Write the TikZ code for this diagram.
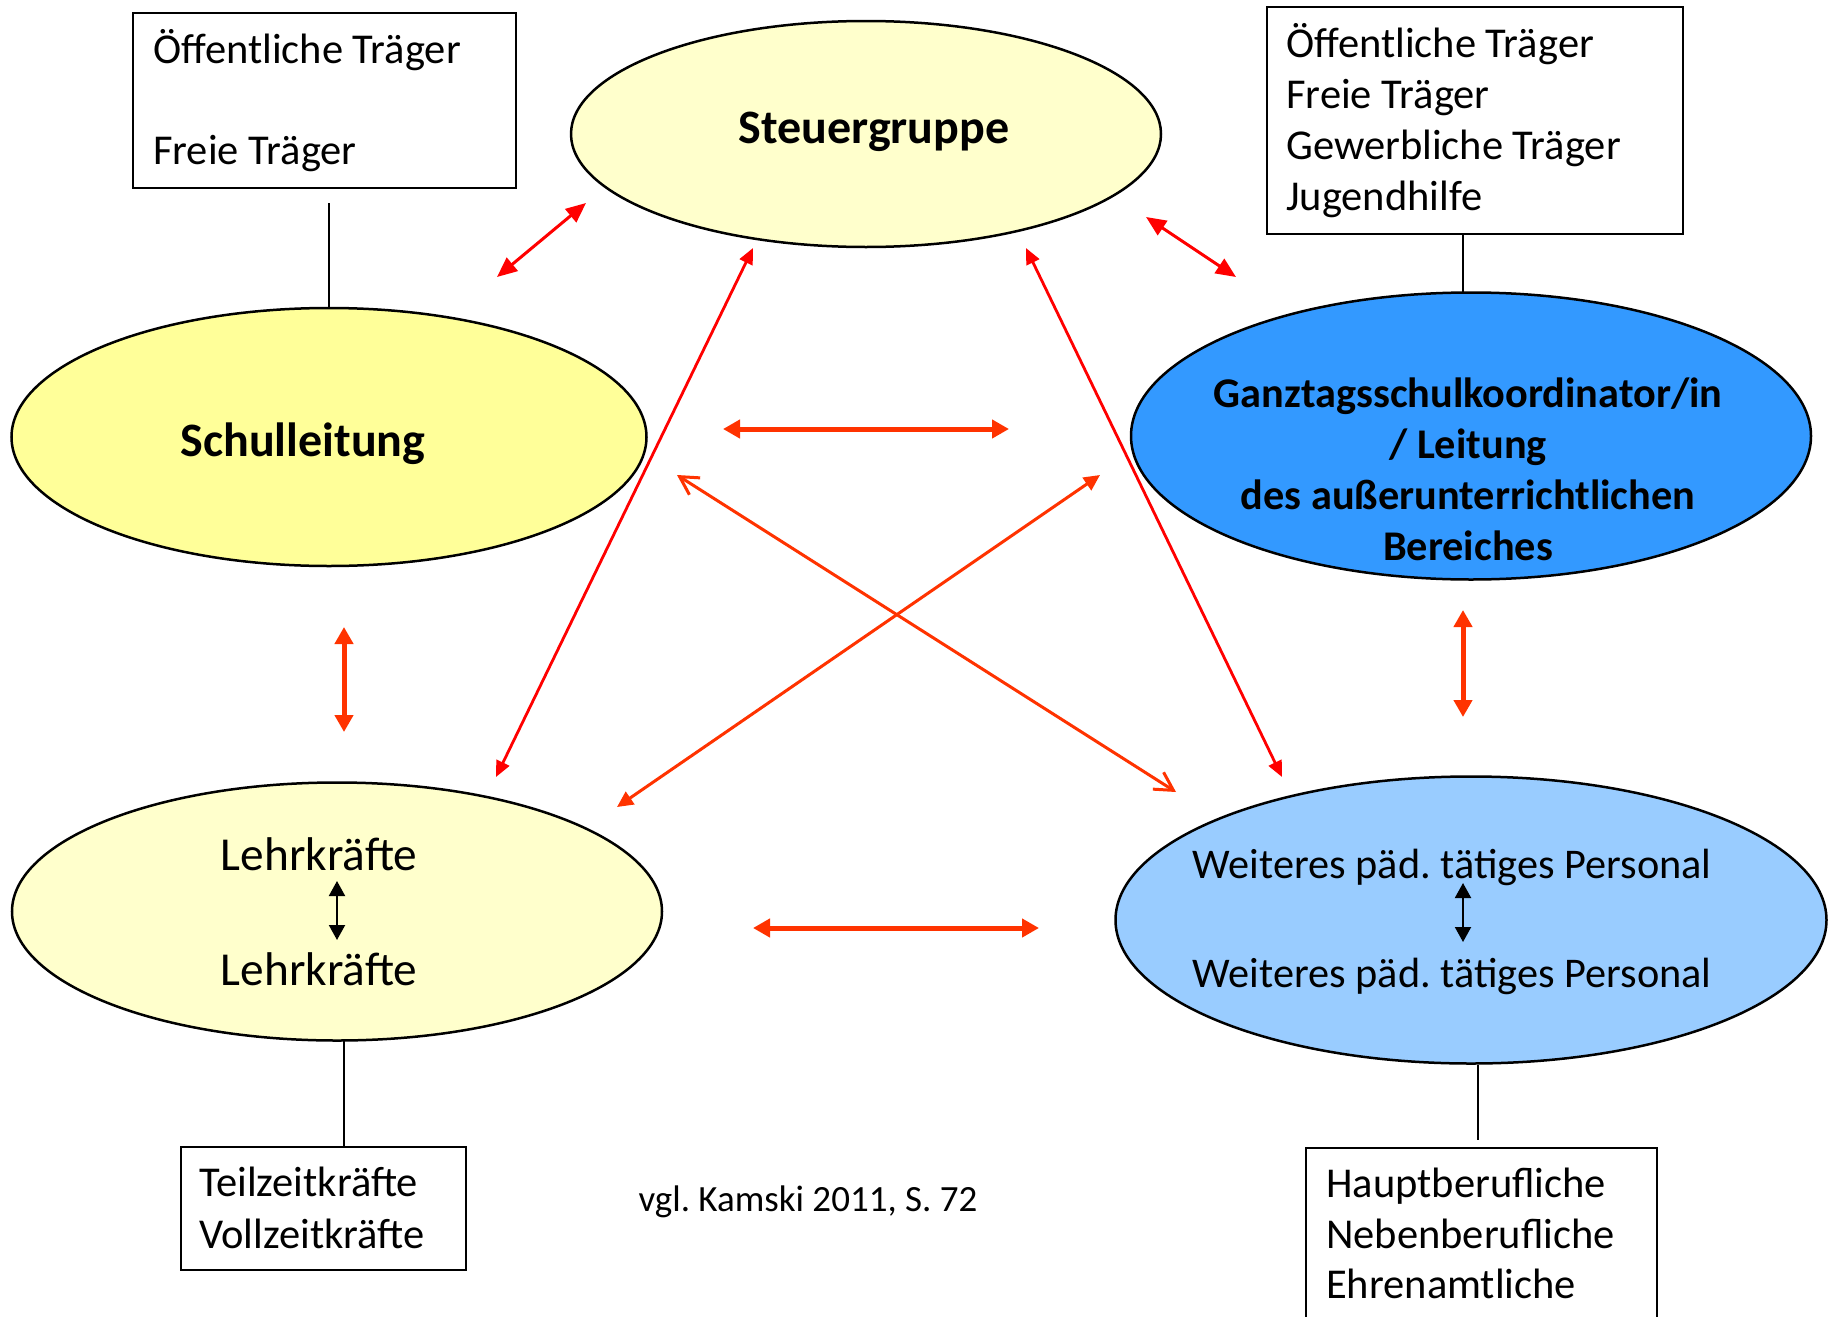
\documentclass[tikz,border=0pt]{standalone}
\usepackage{fontspec}
\setmainfont{Carlito}
\usetikzlibrary{shapes.geometric,arrows.meta}
\definecolor{lightyel}{HTML}{FFFFCC}
\definecolor{yel}{HTML}{FFFF99}
\definecolor{blueA}{HTML}{3399FF}
\definecolor{blueB}{HTML}{99CCFF}
\definecolor{redA}{HTML}{FF0000}
\definecolor{redB}{HTML}{FF3300}
\frenchspacing
\begin{document}
\begin{tikzpicture}[x=1pt,y=-1pt,
  ell/.style={ellipse, draw=black, line width=2.5pt, inner sep=0pt},
  boxstyle/.style={draw=black, line width=2pt, inner sep=0pt, anchor=north west},
  boxtxt/.style={inner sep=0pt, anchor=base west, font=\fontsize{42.5}{51}\selectfont},
  elltxt/.style={inner sep=0pt, font=\fontsize{42.3}{51}\selectfont, align=center},
  bigtxt/.style={inner sep=0pt, font=\bfseries\fontsize{48}{58}\selectfont},
  link/.style={draw=black, line width=1.5pt},
  thinred/.style={draw=redA, line width=3pt, {Triangle[length=20pt,width=17pt]}-{Triangle[length=20pt,width=17pt]}},
  diagred/.style={draw=redA, line width=2.8pt, {Triangle[length=16pt,width=14pt]}-{Triangle[length=16pt,width=14pt]}},
  thickred/.style={draw=redB, line width=5pt, {Triangle[length=17pt,width=18pt]}-{Triangle[length=17pt,width=18pt]}},
  crossred/.style={draw=redB, line width=3pt, {Triangle[length=16pt,width=15pt]}-{Triangle[length=16pt,width=15pt]}},
  openred/.style={draw=redB, line width=3pt, {Straight Barb[length=18pt,width=20pt]}-{Straight Barb[length=18pt,width=20pt]}},
  blackarr/.style={draw=black, line width=2pt, {Triangle[length=15pt,width=16pt]}-{Triangle[length=15pt,width=16pt]}}
]
\useasboundingbox (0,0) rectangle (1837,1317);
\clip (0,0) rectangle (1837,1317);
\fill[white] (0,0) rectangle (1837,1317);

% ellipses
\node[ell, fill=lightyel, minimum width=590pt, minimum height=226pt] (steuer) at (866,134) {};
\node[ell, fill=yel, minimum width=635pt, minimum height=258pt] (schul) at (329,437) {};
\node[ell, fill=blueA, minimum width=680pt, minimum height=287pt] (ganz) at (1471,436) {};
\node[ell, fill=lightyel, minimum width=650pt, minimum height=258pt] (lehr) at (337,911.5) {};
\node[ell, fill=blueB, minimum width=711pt, minimum height=287pt] (weit) at (1471,920) {};

% ellipse texts
\node[bigtxt] (steuerT) at (874,132) {Steuergruppe};
\node[bigtxt] (schulT) at (303,444) {Schulleitung};
\node[elltxt, font=\bfseries\fontsize{42.3}{51}\selectfont] (ganzT) at (1468,469) {Ganztagsschulkoordinator/in\\/ Leitung\\des außerunterrichtlichen\\Bereiches};
\node[inner sep=0pt, font=\fontsize{47.3}{56}\selectfont] (lehrA) at (319,854) {Lehrkräfte};
\node[inner sep=0pt, font=\fontsize{47.3}{56}\selectfont] (lehrB) at (319,969) {Lehrkräfte};
\node[elltxt] (weitA) at (1452,867) {Weiteres päd. tätiges Personal};
\node[elltxt] (weitB) at (1452,976) {Weiteres päd. tätiges Personal};

% black arrows inside
\coordinate (lbA) at (337,881);
\coordinate (lbB) at (337,940);
\draw[blackarr] (lbA) -- (lbB);
\coordinate (wbA) at (1463,883);
\coordinate (wbB) at (1463,942);
\draw[blackarr] (wbA) -- (wbB);

% boxes
\node[boxstyle, minimum width=383pt, minimum height=175pt] (tlbox) at (132,12) {};
\node[boxtxt] (tl1) at (153,63) {Öffentliche Träger};
\node[boxtxt] (tl2) at (153,164) {Freie Träger};

\node[boxstyle, minimum width=416pt, minimum height=227pt] (trbox) at (1266,6) {};
\node[boxtxt] (tr1) at (1286,57) {Öffentliche Träger};
\node[boxtxt] (tr2) at (1286,108) {Freie Träger};
\node[boxtxt] (tr3) at (1286,159) {Gewerbliche Träger};
\node[boxtxt] (tr4) at (1286,210) {Jugendhilfe};

\node[boxstyle, minimum width=285pt, minimum height=123pt] (blbox) at (180,1146) {};
\node[boxtxt] (bl1) at (199,1196) {Teilzeitkräfte};
\node[boxtxt] (bl2) at (199,1248) {Vollzeitkräfte};

\node[boxstyle, minimum width=351pt, minimum height=200pt] (brbox) at (1305,1147) {};
\node[boxtxt] (br1) at (1326,1197) {Hauptberufliche};
\node[boxtxt] (br2) at (1326,1248) {Nebenberufliche};
\node[boxtxt] (br3) at (1326,1298) {Ehrenamtliche};

% caption
\node[inner sep=0pt, font=\fontsize{37}{44}\selectfont] (cap) at (808,1202) {vgl. Kamski 2011, S. 72};

% black links
\coordinate (tllink) at (329,203);
\draw[link] (tllink) -- (tllink |- schul.north);
\coordinate (trlink) at (1463,293);
\draw[link] (trlink |- trbox.south) -- (trlink);
\coordinate (bllink) at (344,1040);
\draw[link] (bllink) -- (bllink |- blbox.north);
\coordinate (brlink) at (1478,1140);
\draw[link] (brlink |- weit.south) -- (brlink);

% red arrows
\coordinate (a1s) at (497,277); \coordinate (a1e) at (586,203);
\draw[thinred] (a1s) -- (a1e);
\coordinate (a2s) at (1146,217); \coordinate (a2e) at (1236,277);
\draw[thinred] (a2s) -- (a2e);
\coordinate (a3s) at (723,429); \coordinate (a3e) at (1009,429);
\draw[thickred] (a3s) -- (a3e);
\coordinate (a4s) at (344,627); \coordinate (a4e) at (344,732);
\draw[thickred] (a4s) -- (a4e);
\coordinate (a5s) at (1463,610); \coordinate (a5e) at (1463,717);
\draw[thickred] (a5s) -- (a5e);
\coordinate (a6s) at (753,928); \coordinate (a6e) at (1039,928);
\draw[thickred] (a6s) -- (a6e);
\coordinate (a7s) at (753,248); \coordinate (a7e) at (496,777);
\draw[diagred] (a7s) -- (a7e);
\coordinate (a8s) at (1026,248); \coordinate (a8e) at (1282,777);
\draw[diagred] (a8s) -- (a8e);
\coordinate (a9s) at (1100,475); \coordinate (a9e) at (617,807);
\draw[crossred] (a9s) -- (a9e);
\coordinate (a10s) at (677,475); \coordinate (a10e) at (1176,792);
\draw[openred] (a10s) -- (a10e);
\end{tikzpicture}
\end{document}
